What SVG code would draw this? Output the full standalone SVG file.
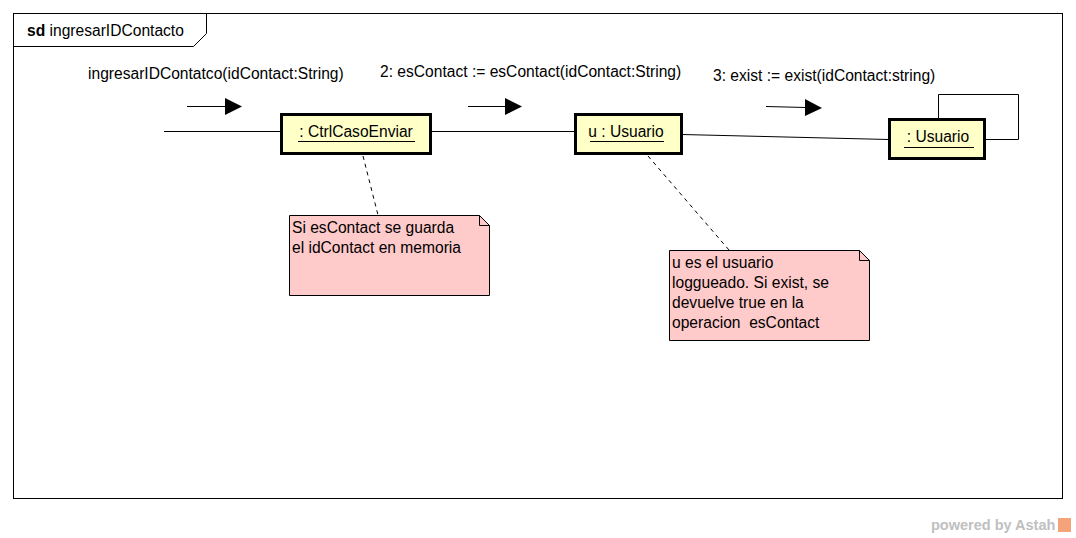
<svg xmlns="http://www.w3.org/2000/svg" width="1076" height="538" viewBox="0 0 1076 538">
<style>
text{font-family:"Liberation Sans",Arial,sans-serif;font-size:15.6px;fill:#000;white-space:pre}
.obj{fill:#ffffc8;stroke:#000;stroke-width:3}
.note{fill:#ffcaca;stroke:#000;stroke-width:1}
.ln{stroke:#000;stroke-width:1;fill:none}
.dash{stroke:#000;stroke-width:1;stroke-dasharray:4,4;fill:none}
.ul{stroke:#000;stroke-width:1}
</style>
<rect width="1076" height="538" fill="#fff"/>
<g id="frame">
<rect x="13.5" y="13.5" width="1049" height="485" fill="#fff" stroke="#000"/>
<path d="M13.5 46.5 H193.5 L206.5 33.5 V13.5" class="ln"/>
<text x="27" y="36"><tspan font-weight="bold">sd</tspan> ingresarIDContacto</text>
</g>
<g id="connectors">
<line x1="164" y1="131.5" x2="281" y2="131.5" class="ln"/>
<line x1="431" y1="131.5" x2="574" y2="131.5" class="ln"/>
<line x1="682" y1="134.5" x2="889" y2="139.5" class="ln"/>
<path d="M938.5 119 V94.5 H1018.5 V139.5 H985" class="ln"/>
<line x1="363" y1="156" x2="378" y2="215" class="dash"/>
<line x1="648" y1="156" x2="729" y2="250" class="dash"/>
<line x1="187" y1="106.5" x2="226" y2="106.5" class="ln"/>
<polygon points="225,98 242,106.5 225,115" fill="#000"/>
<line x1="468" y1="106.5" x2="506" y2="106.5" class="ln"/>
<polygon points="505,98 522,106.5 505,115" fill="#000"/>
<line x1="766" y1="106.5" x2="806" y2="107.5" class="ln"/>
<polygon points="805,99 822,108 805,116" fill="#000"/>
<text x="88" y="79">ingresarIDContatco(idContact:String)</text>
<text x="380" y="77">2: esContact := esContact(idContact:String)</text>
<text x="713" y="81">3: exist := exist(idContact:string)</text>
</g>
<g id="ctrl">
<rect x="281.5" y="114.5" width="149" height="39" class="obj"/>
<text x="356" y="137" text-anchor="middle">: CtrlCasoEnviar</text>
<line x1="298" y1="141.5" x2="415" y2="141.5" class="ul"/>
</g>
<g id="u">
<rect x="575.5" y="114.5" width="106" height="39" class="obj"/>
<text x="626" y="137" text-anchor="middle">u : Usuario</text>
<line x1="590" y1="141.5" x2="664" y2="141.5" class="ul"/>
</g>
<g id="usuario">
<rect x="889.5" y="119.5" width="95" height="39" class="obj"/>
<text x="938" y="142" text-anchor="middle">: Usuario</text>
<line x1="904" y1="147.5" x2="974" y2="147.5" class="ul"/>
</g>
<g id="note1">
<path d="M289.5 215.5 H479.5 L489.5 225.5 V295.5 H289.5 Z" class="note"/>
<path d="M479.5 215.5 V225.5 H489.5" class="ln"/>
<text x="292" y="233">Si esContact se guarda</text>
<text x="292" y="253">el idContact en memoria</text>
</g>
<g id="note2">
<path d="M669.5 250.5 H859.5 L869.5 260.5 V340.5 H669.5 Z" class="note"/>
<path d="M859.5 250.5 V260.5 H869.5" class="ln"/>
<text x="672" y="268">u es el usuario</text>
<text x="672" y="288">loggueado. Si exist, se</text>
<text x="672" y="308">devuelve true en la</text>
<text x="672" y="328" xml:space="preserve">operacion  esContact</text>
</g>
<g id="watermark">
<text x="931" y="530" style="font-size:14.5px;font-weight:bold;fill:#c0c0c0">powered by Astah</text>
<rect x="1058" y="518" width="13" height="14" fill="#f5a37a"/>
</g>
</svg>
